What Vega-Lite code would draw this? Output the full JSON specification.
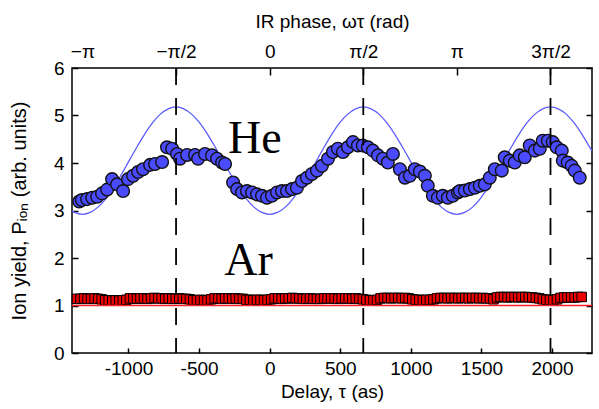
{
  "$schema": "https://vega.github.io/schema/vega-lite/v6.json",
  "width": 520,
  "height": 285,
  "autosize": {"type": "none"},
  "padding": {"left": 72, "top": 68, "right": 7, "bottom": 56},
  "background": "white",
  "config": {
    "view": {"stroke": "black", "strokeWidth": 1.5},
    "axis": {
      "labelFont": "Liberation Sans",
      "titleFont": "Liberation Sans",
      "labelFontSize": 19,
      "titleFontSize": 19,
      "titleFontWeight": "normal",
      "labelColor": "black",
      "titleColor": "black",
      "tickColor": "black",
      "grid": false,
      "domain": false,
      "tickWidth": 1.5
    }
  },
  "datasets": {
    "he": [
      {"t": -1349, "v": 3.19}, {"t": -1330, "v": 3.22}, {"t": -1293, "v": 3.24}, {"t": -1257, "v": 3.27},
      {"t": -1222, "v": 3.29}, {"t": -1187, "v": 3.36}, {"t": -1151, "v": 3.44}, {"t": -1116, "v": 3.66},
      {"t": -1081, "v": 3.55}, {"t": -1038, "v": 3.41}, {"t": -1003, "v": 3.66}, {"t": -967, "v": 3.73},
      {"t": -932, "v": 3.81}, {"t": -897, "v": 3.87}, {"t": -847, "v": 3.96}, {"t": -812, "v": 3.98},
      {"t": -762, "v": 4.02}, {"t": -727, "v": 4.33}, {"t": -691, "v": 4.30}, {"t": -656, "v": 4.19},
      {"t": -635, "v": 4.09}, {"t": -585, "v": 4.17}, {"t": -529, "v": 4.17}, {"t": -507, "v": 4.09},
      {"t": -458, "v": 4.19}, {"t": -408, "v": 4.16}, {"t": -373, "v": 4.09}, {"t": -337, "v": 4.01},
      {"t": -316, "v": 3.98}, {"t": -259, "v": 3.59}, {"t": -231, "v": 3.45}, {"t": -196, "v": 3.38},
      {"t": -161, "v": 3.41}, {"t": -125, "v": 3.38}, {"t": -90, "v": 3.34}, {"t": -54, "v": 3.31},
      {"t": -19, "v": 3.27}, {"t": 16, "v": 3.31}, {"t": 52, "v": 3.38}, {"t": 87, "v": 3.41},
      {"t": 122, "v": 3.41}, {"t": 158, "v": 3.45}, {"t": 193, "v": 3.48}, {"t": 229, "v": 3.62},
      {"t": 264, "v": 3.69}, {"t": 299, "v": 3.77}, {"t": 335, "v": 3.84}, {"t": 370, "v": 3.94},
      {"t": 413, "v": 4.09}, {"t": 448, "v": 4.23}, {"t": 483, "v": 4.30}, {"t": 519, "v": 4.23},
      {"t": 554, "v": 4.33}, {"t": 590, "v": 4.44}, {"t": 625, "v": 4.37}, {"t": 660, "v": 4.37},
      {"t": 696, "v": 4.33}, {"t": 731, "v": 4.26}, {"t": 767, "v": 4.16}, {"t": 802, "v": 4.09},
      {"t": 837, "v": 4.01}, {"t": 873, "v": 4.19}, {"t": 922, "v": 3.87}, {"t": 958, "v": 3.69},
      {"t": 993, "v": 3.73}, {"t": 1028, "v": 3.87}, {"t": 1064, "v": 3.82}, {"t": 1099, "v": 3.73},
      {"t": 1120, "v": 3.52}, {"t": 1156, "v": 3.31}, {"t": 1191, "v": 3.27}, {"t": 1226, "v": 3.31},
      {"t": 1262, "v": 3.27}, {"t": 1297, "v": 3.31}, {"t": 1333, "v": 3.38}, {"t": 1347, "v": 3.41},
      {"t": 1382, "v": 3.42}, {"t": 1418, "v": 3.45}, {"t": 1453, "v": 3.48}, {"t": 1488, "v": 3.52},
      {"t": 1524, "v": 3.55}, {"t": 1559, "v": 3.69}, {"t": 1595, "v": 3.87}, {"t": 1644, "v": 3.84},
      {"t": 1665, "v": 4.12}, {"t": 1701, "v": 4.05}, {"t": 1736, "v": 4.01}, {"t": 1771, "v": 4.16},
      {"t": 1807, "v": 4.12}, {"t": 1842, "v": 4.37}, {"t": 1878, "v": 4.26}, {"t": 1913, "v": 4.30},
      {"t": 1934, "v": 4.47}, {"t": 1970, "v": 4.47}, {"t": 2005, "v": 4.44}, {"t": 2033, "v": 4.33},
      {"t": 2069, "v": 4.26}, {"t": 2076, "v": 4.05}, {"t": 2111, "v": 4.01}, {"t": 2139, "v": 3.94},
      {"t": 2161, "v": 3.84}, {"t": 2196, "v": 3.69}
    ],
    "ar": [
      {"t": -1365, "v": 1.14}, {"t": -1340, "v": 1.14}, {"t": -1315, "v": 1.15}, {"t": -1290, "v": 1.14},
      {"t": -1265, "v": 1.14}, {"t": -1240, "v": 1.15}, {"t": -1215, "v": 1.14}, {"t": -1190, "v": 1.13},
      {"t": -1165, "v": 1.11}, {"t": -1140, "v": 1.11}, {"t": -1115, "v": 1.10}, {"t": -1090, "v": 1.11},
      {"t": -1065, "v": 1.10}, {"t": -1040, "v": 1.11}, {"t": -1015, "v": 1.12}, {"t": -990, "v": 1.15},
      {"t": -965, "v": 1.15}, {"t": -940, "v": 1.14}, {"t": -915, "v": 1.15}, {"t": -890, "v": 1.15},
      {"t": -865, "v": 1.14}, {"t": -840, "v": 1.15}, {"t": -815, "v": 1.16}, {"t": -790, "v": 1.15},
      {"t": -765, "v": 1.15}, {"t": -740, "v": 1.14}, {"t": -715, "v": 1.15}, {"t": -690, "v": 1.14},
      {"t": -665, "v": 1.14}, {"t": -640, "v": 1.15}, {"t": -615, "v": 1.14}, {"t": -590, "v": 1.14},
      {"t": -565, "v": 1.13}, {"t": -540, "v": 1.11}, {"t": -515, "v": 1.11}, {"t": -490, "v": 1.12},
      {"t": -465, "v": 1.11}, {"t": -440, "v": 1.11}, {"t": -415, "v": 1.13}, {"t": -390, "v": 1.15},
      {"t": -365, "v": 1.15}, {"t": -340, "v": 1.14}, {"t": -315, "v": 1.15}, {"t": -290, "v": 1.15},
      {"t": -265, "v": 1.14}, {"t": -240, "v": 1.15}, {"t": -215, "v": 1.14}, {"t": -190, "v": 1.14},
      {"t": -165, "v": 1.12}, {"t": -140, "v": 1.12}, {"t": -115, "v": 1.11}, {"t": -90, "v": 1.12},
      {"t": -65, "v": 1.12}, {"t": -40, "v": 1.11}, {"t": -15, "v": 1.12}, {"t": 10, "v": 1.13},
      {"t": 35, "v": 1.15}, {"t": 60, "v": 1.15}, {"t": 85, "v": 1.14}, {"t": 110, "v": 1.15},
      {"t": 135, "v": 1.15}, {"t": 160, "v": 1.16}, {"t": 185, "v": 1.15}, {"t": 210, "v": 1.15},
      {"t": 235, "v": 1.14}, {"t": 260, "v": 1.14}, {"t": 285, "v": 1.15}, {"t": 310, "v": 1.14},
      {"t": 335, "v": 1.14}, {"t": 360, "v": 1.14}, {"t": 385, "v": 1.15}, {"t": 410, "v": 1.15},
      {"t": 435, "v": 1.15}, {"t": 460, "v": 1.15}, {"t": 485, "v": 1.14}, {"t": 510, "v": 1.15},
      {"t": 535, "v": 1.15}, {"t": 560, "v": 1.15}, {"t": 585, "v": 1.14}, {"t": 610, "v": 1.15},
      {"t": 635, "v": 1.14}, {"t": 660, "v": 1.13}, {"t": 685, "v": 1.12}, {"t": 710, "v": 1.11},
      {"t": 735, "v": 1.11}, {"t": 760, "v": 1.12}, {"t": 785, "v": 1.15}, {"t": 810, "v": 1.16},
      {"t": 835, "v": 1.16}, {"t": 860, "v": 1.15}, {"t": 885, "v": 1.16}, {"t": 910, "v": 1.16},
      {"t": 935, "v": 1.15}, {"t": 960, "v": 1.16}, {"t": 985, "v": 1.15}, {"t": 1010, "v": 1.13},
      {"t": 1035, "v": 1.12}, {"t": 1060, "v": 1.12}, {"t": 1085, "v": 1.11}, {"t": 1110, "v": 1.12},
      {"t": 1135, "v": 1.12}, {"t": 1160, "v": 1.13}, {"t": 1185, "v": 1.15}, {"t": 1210, "v": 1.16},
      {"t": 1235, "v": 1.16}, {"t": 1260, "v": 1.15}, {"t": 1285, "v": 1.16}, {"t": 1310, "v": 1.16},
      {"t": 1335, "v": 1.15}, {"t": 1360, "v": 1.16}, {"t": 1385, "v": 1.16}, {"t": 1410, "v": 1.15},
      {"t": 1435, "v": 1.16}, {"t": 1460, "v": 1.16}, {"t": 1485, "v": 1.15}, {"t": 1510, "v": 1.16},
      {"t": 1535, "v": 1.15}, {"t": 1560, "v": 1.15}, {"t": 1585, "v": 1.13}, {"t": 1610, "v": 1.17},
      {"t": 1635, "v": 1.18}, {"t": 1660, "v": 1.18}, {"t": 1685, "v": 1.17}, {"t": 1710, "v": 1.18},
      {"t": 1735, "v": 1.18}, {"t": 1760, "v": 1.17}, {"t": 1785, "v": 1.18}, {"t": 1810, "v": 1.18},
      {"t": 1835, "v": 1.17}, {"t": 1860, "v": 1.17}, {"t": 1885, "v": 1.16}, {"t": 1910, "v": 1.15},
      {"t": 1935, "v": 1.13}, {"t": 1960, "v": 1.12}, {"t": 1985, "v": 1.12}, {"t": 2010, "v": 1.11},
      {"t": 2035, "v": 1.13}, {"t": 2060, "v": 1.16}, {"t": 2085, "v": 1.17}, {"t": 2110, "v": 1.17},
      {"t": 2135, "v": 1.17}, {"t": 2160, "v": 1.17}, {"t": 2185, "v": 1.18}, {"t": 2210, "v": 1.18}
    ],
    "model": [
      {"t": -1400, "v": 2.99}, {"t": -1381, "v": 2.959}, {"t": -1326, "v": 2.92}, {"t": -1271, "v": 2.959},
      {"t": -1216, "v": 3.071}, {"t": -1160, "v": 3.251}, {"t": -1105, "v": 3.485}, {"t": -1050, "v": 3.758},
      {"t": -995, "v": 4.05}, {"t": -939, "v": 4.342}, {"t": -884, "v": 4.615}, {"t": -829, "v": 4.849},
      {"t": -774, "v": 5.029}, {"t": -718, "v": 5.141}, {"t": -663, "v": 5.18}, {"t": -608, "v": 5.141},
      {"t": -553, "v": 5.029}, {"t": -497, "v": 4.849}, {"t": -442, "v": 4.615}, {"t": -387, "v": 4.342},
      {"t": -332, "v": 4.05}, {"t": -276, "v": 3.758}, {"t": -221, "v": 3.485}, {"t": -166, "v": 3.251},
      {"t": -111, "v": 3.071}, {"t": -55, "v": 2.959}, {"t": 0, "v": 2.92}, {"t": 55, "v": 2.959},
      {"t": 111, "v": 3.071}, {"t": 166, "v": 3.251}, {"t": 221, "v": 3.485}, {"t": 276, "v": 3.758},
      {"t": 332, "v": 4.05}, {"t": 387, "v": 4.342}, {"t": 442, "v": 4.615}, {"t": 497, "v": 4.849},
      {"t": 553, "v": 5.029}, {"t": 608, "v": 5.141}, {"t": 663, "v": 5.18}, {"t": 718, "v": 5.141},
      {"t": 774, "v": 5.029}, {"t": 829, "v": 4.849}, {"t": 884, "v": 4.615}, {"t": 939, "v": 4.342},
      {"t": 995, "v": 4.05}, {"t": 1050, "v": 3.758}, {"t": 1105, "v": 3.485}, {"t": 1160, "v": 3.251},
      {"t": 1216, "v": 3.071}, {"t": 1271, "v": 2.959}, {"t": 1326, "v": 2.92}, {"t": 1381, "v": 2.959},
      {"t": 1437, "v": 3.071}, {"t": 1492, "v": 3.251}, {"t": 1547, "v": 3.485}, {"t": 1602, "v": 3.758},
      {"t": 1658, "v": 4.05}, {"t": 1713, "v": 4.342}, {"t": 1768, "v": 4.615}, {"t": 1823, "v": 4.849},
      {"t": 1879, "v": 5.029}, {"t": 1934, "v": 5.141}, {"t": 1989, "v": 5.18}, {"t": 2044, "v": 5.141},
      {"t": 2100, "v": 5.029}, {"t": 2155, "v": 4.849}, {"t": 2210, "v": 4.615}, {"t": 2265, "v": 4.342},
      {"t": 2283, "v": 4.25}
    ],
    "phases": [{"t": -663}, {"t": 663}, {"t": 1989}],
    "labels": [
      {"t": -105, "v": 4.21, "label": "He"},
      {"t": -150, "v": 1.64, "label": "Ar"}
    ]
  },
  "layer": [
    {
      "data": {"name": "model"},
      "mark": {"type": "line", "color": "#5c5cff", "strokeWidth": 1.3, "interpolate": "monotone"},
      "encoding": {
        "x": {
          "field": "t", "type": "quantitative",
          "scale": {"domain": [-1400, 2283], "nice": false, "zero": false},
          "axis": {
            "orient": "top",
            "title": "IR phase, ωτ (rad)",
            "values": [-1326, -663, 0, 663, 1326, 1989],
            "labelExpr": "datum.value < -1000 ? '−π' : datum.value < -100 ? '−π/2' : datum.value < 100 ? '0' : datum.value < 1000 ? 'π/2' : datum.value < 1500 ? 'π' : '3π/2'",
            "tickSize": -7,
            "tickOpacity": {"condition": {"test": "datum.value < -1000", "value": 0}, "value": 1},
            "labelPadding": 14,
            "titlePadding": 11,
            "labelFlush": false
          }
        },
        "y": {
          "field": "v", "type": "quantitative",
          "scale": {"domain": [0, 6], "nice": false},
          "axis": {"orient": "right", "title": null, "labels": false, "values": [0, 1, 2, 3, 4, 5, 6], "tickSize": -6}
        }
      }
    },
    {
      "data": {"name": "ar"},
      "mark": {"type": "square", "filled": true, "color": "#ee0000", "stroke": "black", "strokeWidth": 1, "size": 90, "opacity": 1},
      "encoding": {
        "x": {"field": "t", "type": "quantitative", "axis": null},
        "y": {"field": "v", "type": "quantitative", "axis": null}
      }
    },
    {
      "data": {"values": [{"v": 1}]},
      "mark": {"type": "rule", "color": "#ff2020", "strokeWidth": 1.5},
      "encoding": {
        "y": {"field": "v", "type": "quantitative", "axis": null}
      }
    },
    {
      "data": {"name": "he"},
      "mark": {"type": "circle", "color": "#4a4aff", "stroke": "#111111", "strokeWidth": 1.4, "size": 160, "opacity": 1},
      "encoding": {
        "x": {
          "field": "t", "type": "quantitative",
          "axis": {
            "orient": "bottom",
            "title": "Delay, τ (as)",
            "values": [-1000, -500, 0, 500, 1000, 1500, 2000],
            "labelExpr": "'' + datum.value",
            "tickSize": -5,
            "labelPadding": 11,
            "titlePadding": 4,
            "labelFlush": false
          }
        },
        "y": {
          "field": "v", "type": "quantitative",
          "axis": {
            "orient": "left",
            "title": "Ion yield, Pᵢₒₙ (arb. units)",
            "titleFontSize": 20,
            "values": [0, 1, 2, 3, 4, 5, 6],
            "tickSize": -6,
            "labelPadding": 14,
            "titlePadding": 24
          }
        }
      }
    },
    {
      "data": {"name": "phases"},
      "mark": {"type": "rule", "color": "black", "strokeWidth": 1.8, "strokeDash": [17, 13]},
      "encoding": {
        "x": {"field": "t", "type": "quantitative", "axis": null}
      }
    },
    {
      "data": {"name": "labels"},
      "mark": {"type": "text", "font": "Liberation Serif", "fontSize": 46, "align": "center", "baseline": "alphabetic", "color": "black"},
      "encoding": {
        "x": {"field": "t", "type": "quantitative", "axis": null},
        "y": {"field": "v", "type": "quantitative", "axis": null},
        "text": {"field": "label", "type": "nominal"}
      }
    }
  ],
  "resolve": {"axis": {"x": "independent", "y": "independent"}}
}
